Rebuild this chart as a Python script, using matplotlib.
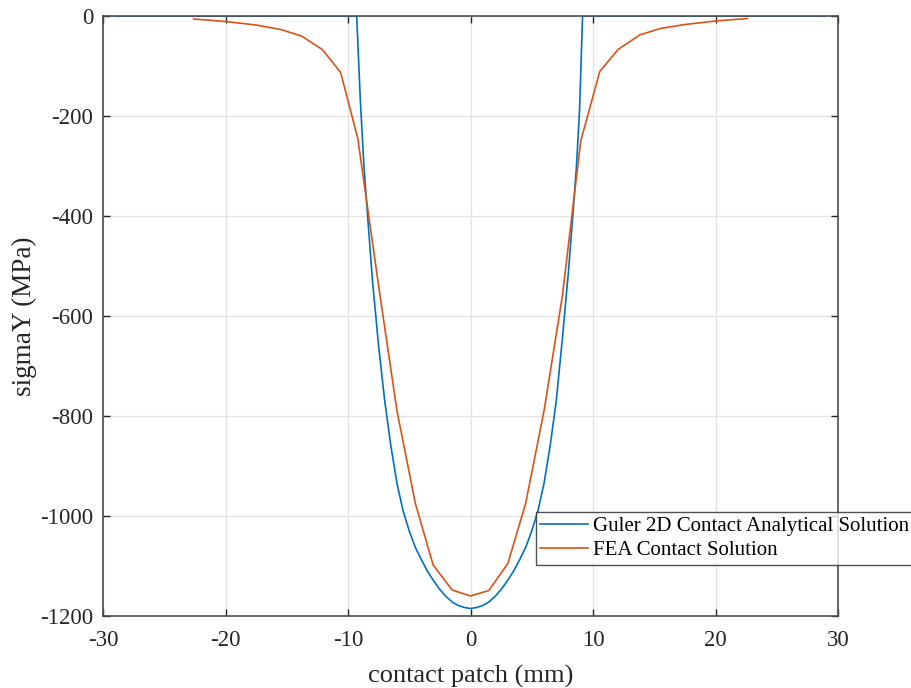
import matplotlib
matplotlib.use("Agg")
import matplotlib.pyplot as plt

# analytical (Guler 2D) solution
x_guler = [-29.0, -9.29, -9.0, -8.7, -8.4, -8.0, -7.5, -7.0, -6.5, -6.0, -5.5, -5.0,
           -4.5, -4.0, -3.5, -3.0, -2.5, -2.0, -1.5, -1.0, -0.5, 0.0,
           0.5, 1.0, 1.5, 2.0, 2.5, 3.0, 3.5, 4.0, 4.5, 5.0, 5.5, 6.0, 6.5, 7.0,
           7.5, 8.0, 8.35, 8.65, 8.9, 9.15, 29.0]
y_guler = [0, 0, -165, -300, -400, -530, -660, -770, -860, -935, -990, -1030,
           -1063, -1088, -1111, -1130, -1147, -1161, -1172, -1179, -1183, -1185,
           -1183, -1179, -1172, -1161, -1147, -1130, -1111, -1088, -1063, -1030, -990, -935, -860, -770,
           -645, -510, -400, -300, -190, 0, 0]

# FEA contact solution nodes
x_fea = [-22.6, -20.0, -17.5, -15.5, -13.8, -12.1, -10.6, -9.2, -7.5, -6.0, -4.5, -3.05, -1.5, 0.0,
         1.5, 3.05, 4.5, 6.0, 7.5, 9.0, 10.55, 12.05, 13.8, 15.5, 17.5, 20.0, 22.6]
y_fea = [-6, -11, -18, -27, -40, -67, -113, -245, -540, -790, -975, -1098, -1148, -1160,
         -1149, -1095, -975, -790, -560, -250, -111, -67, -38, -25, -17, -10, -5]

x_ticks = [-30, -20, -10, 0, 10, 20, 30]
y_ticks = [-1200, -1000, -800, -600, -400, -200, 0]

plt.rcParams["font.family"] = ["Liberation Serif", "DejaVu Serif"]
plt.rcParams["font.size"] = 16.5
plt.rcParams["axes.unicode_minus"] = False

fig = plt.figure(figsize=(9.11, 6.88), dpi=100)
ax = fig.add_axes([103 / 911, 72 / 688, 735 / 911, 600 / 688])

ax.plot(x_guler, y_guler, color="#0072BD", linewidth=1.2, label="Guler 2D Contact Analytical Solution")
ax.plot(x_fea, y_fea, color="#D95319", linewidth=1.2, label="FEA Contact Solution")

ax.set_xlim(-30, 30)
ax.set_ylim(-1200, 0)
ax.set_xticks(x_ticks)
ax.set_yticks(y_ticks)
ax.grid(True, color="#e3e3e3", linewidth=1.0)
ax.set_axisbelow(True)
ax.tick_params(direction="in", length=5, width=1, colors="#262626", top=True, right=True,
               labelcolor="#262626", labelsize=16.5)
ax.tick_params(axis="x", pad=10)
ax.tick_params(axis="y", pad=7)
for spine in ax.spines.values():
    spine.set_color("#4d4d4d")
    spine.set_linewidth(1.2)

ax.set_xlabel("contact patch (mm)", color="#262626", fontsize=19, labelpad=10)
ax.set_ylabel("sigmaY (MPa)", color="#262626", fontsize=19.5, labelpad=2)

leg = ax.legend(loc="upper left", bbox_to_anchor=(0.589, 0.173), frameon=True, fancybox=False,
                edgecolor="#262626", handlelength=2.3, handletextpad=0.2, labelspacing=0.2,
                borderpad=0.22, borderaxespad=0.0, fontsize=15)
leg.get_frame().set_linewidth(1.0)
leg.set_clip_on(False)

fig.savefig("out.png", dpi=100, facecolor="white")
